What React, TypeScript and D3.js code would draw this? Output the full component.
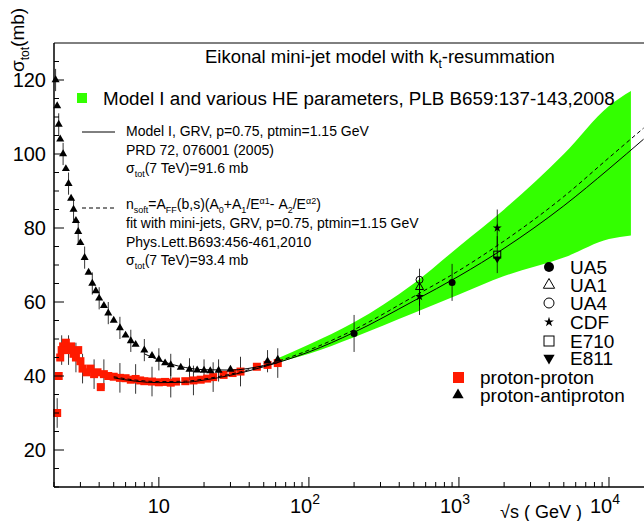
import React from 'react';
import * as d3 from 'd3';

type P = [number, number];

const ppData: P[] = [[2.1,30],[2.15,40],[2.2,45],[2.25,47],[2.3,48],[2.4,49],[2.5,47],[2.6,48],[2.7,46],[2.8,45],[2.9,47],[3.0,44],[3.1,42],[3.3,41],[3.5,42],[3.7,40.5],[3.9,41],[4.1,37],[4.3,40.5],[4.6,40],[5,39.8],[5.5,39.5],[6,39.4],[6.5,39],[7,39.2],[7.5,38.8],[8,38.6],[9,38.5],[10,38.3],[11,38.4],[12,38.2],[13,38.5],[15,38.6],[17,38.8],[19,39],[21,39.3],[23,39.7],[27,40.3],[31,40.8],[35,41.2],[45,42.5],[53,43],[62,43.5]];
const pbarpData: P[] = [[2.05,120],[2.1,113],[2.15,108],[2.2,104],[2.3,100],[2.4,96],[2.5,92],[2.6,88],[2.7,85],[2.8,82],[2.9,79],[3.0,76],[3.2,72],[3.4,68],[3.6,65],[3.8,63],[4.0,61],[4.3,59],[4.6,57],[5,55],[5.5,53],[6,51],[6.5,49.5],[7,48.5],[8,47],[9,45.5],[10,44.5],[11,43.5],[12,43],[14,42.3],[16,41.8],[18,41.6],[20,41.5],[22,41.4],[25,41.5],[30,41.8],[53,44],[62,44.5]];

const ua5: P[] = [[200, 51.5], [900, 65.3]];
const ua1: P[] = [[546, 64]];
const ua4: P[] = [[546, 66]];
const cdf: P[] = [[546, 61.5], [1800, 80]];
const e710: P[] = [[1800, 72.8]];
const e811: P[] = [[1800, 71.7]];

const ppSolid: P[] = [[5,39.5],[7,38.6],[10,38.2],[15,38.3],[20,38.9],[30,40.2],[50,42.5],[100,46.5],[200,51.8],[500,60.3],[1000,67],[2000,74.5],[5000,86],[10000,96],[17000,104]];
const ppDashed: P[] = [[5,39.8],[7,38.9],[10,38.5],[15,38.6],[20,39.2],[30,40.5],[50,42.8],[100,47],[200,52.5],[500,61.5],[1000,68.5],[2000,76.5],[5000,88.5],[10000,99],[17000,107]];
const pbarpSolid: P[] = [[8,46],[10,44.3],[15,42.3],[20,41.7],[30,41.6],[50,42.8],[62,43.6]];

const bandE = [60, 100, 200, 500, 1000, 2000, 5000, 10000, 14000];
const bandHi = [44.5, 48.5, 54.5, 65, 75, 85, 100, 113, 117];
const bandLo = [43.5, 46, 50.5, 57, 62, 67, 72, 77, 78];

const yTicks = [20, 40, 60, 80, 100, 120];

const W = 644, H = 521;
const left = 54, top = 43, bottom = 487;

export default function App() {
  const x = d3.scaleLog().domain([2, 10 ** (1 + (W - 159) / 150)]).range([left, W]);
  const y = d3.scaleLinear().domain([10, 130]).range([bottom, top]);
  const line = d3.line<P>().x(d => x(d[0])).y(d => y(d[1])).curve(d3.curveMonotoneX);
  const area = d3.area<number>().x((_, i) => x(bandE[i])).y0((_, i) => y(bandLo[i])).y1(d => y(d)).curve(d3.curveMonotoneX);
  const tri = d3.symbol(d3.symbolTriangle, 28)()!;
  const bigTri = d3.symbol(d3.symbolTriangle, 55)()!;
  const sans = 'Liberation Sans, Arial, sans-serif';

  const minorX: number[] = [];
  for (let e = 0; e < 5; e++) for (let m = 1; m < 10; m++) {
    const v = m * 10 ** e;
    if (v >= 2 && v <= x.domain()[1]) minorX.push(v);
  }
  const minorY = d3.range(10, 130, 5);
  const errs = (pts: P[], e: number) => pts.map((d, i) => (
    <line key={i} x1={x(d[0])} x2={x(d[0])} y1={y(d[1] - e)} y2={y(d[1] + e)} stroke="#000" strokeWidth={0.8} />
  ));
  const legendY = [267, 285, 303, 322, 341, 358];

  return (
    <svg width={W} height={H} style={{ position: 'absolute', left: 0, top: 0, background: '#fff' }} fontFamily={sans}>
      <path d={area(bandHi)!} fill="#33ff00" />
      {errs(ppData.filter((_, i) => i % 3 === 0), 4)}
      {errs(pbarpData.filter((_, i) => i % 2 === 0), 3)}
      {ppData.map((d, i) => <rect key={i} x={x(d[0]) - 4} y={y(d[1]) - 4} width={8} height={8} fill="#ff1a00" />)}
      {pbarpData.map((d, i) => <path key={i} d={tri} transform={`translate(${x(d[0])},${y(d[1])})`} fill="#000" />)}
      <path d={line(ppSolid)!} fill="none" stroke="#000" strokeWidth={1} />
      <path d={line(pbarpSolid)!} fill="none" stroke="#000" strokeWidth={1} />
      <path d={line(ppDashed)!} fill="none" stroke="#000" strokeWidth={1} strokeDasharray="4,3" />
      {errs([...ua5, ...ua1, ...cdf, ...e710], 5)}
      {ua5.map((d, i) => <circle key={i} cx={x(d[0])} cy={y(d[1])} r={3.5} fill="#000" />)}
      {ua1.map((d, i) => <path key={i} d={tri} transform={`translate(${x(d[0])},${y(d[1])})`} fill="none" stroke="#000" />)}
      {ua4.map((d, i) => <circle key={i} cx={x(d[0])} cy={y(d[1])} r={3.5} fill="none" stroke="#000" />)}
      {cdf.map((d, i) => <path key={i} d={d3.symbol(d3.symbolStar, 25)()!} transform={`translate(${x(d[0])},${y(d[1])})`} fill="#000" />)}
      {e710.map((d, i) => <rect key={i} x={x(d[0]) - 3.5} y={y(d[1]) - 3.5} width={7} height={7} fill="none" stroke="#000" />)}
      {e811.map((d, i) => <path key={i} d={tri} transform={`translate(${x(d[0])},${y(d[1])}) rotate(180)`} fill="#000" />)}

      {/* axes */}
      <line x1={left} x2={W} y1={top} y2={top} stroke="#000" />
      <line x1={left} x2={left} y1={top} y2={bottom} stroke="#000" strokeWidth={1.5} />
      <line x1={left} x2={W} y1={bottom} y2={bottom} stroke="#000" strokeWidth={1.5} />
      {minorX.map(v => {
        const major = Math.abs(Math.log10(v) % 1) < 1e-9;
        return <line key={v} x1={x(v)} x2={x(v)} y1={bottom} y2={bottom - (major ? 10 : 5)} stroke="#000" />;
      })}
      {minorY.map(v => <line key={v} x1={left} x2={left + (v % 20 === 0 ? 10 : 5)} y1={y(v)} y2={y(v)} stroke="#000" />)}
      {yTicks.map(v => <text key={v} x={left - 8} y={y(v) + 7} textAnchor="end" fontSize={20}>{v}</text>)}
      <text x={x(10)} y={bottom + 26} textAnchor="middle" fontSize={20}>10</text>
      {[2, 3, 4].map(e => (
        <text key={e} x={x(10 ** e) - 4} y={bottom + 26} textAnchor="middle" fontSize={20}>10<tspan dy={-9} fontSize={14}>{e}</tspan></text>
      ))}
      <text x={500} y={518} fontSize={18}>√s ( GeV )</text>
      <text transform="translate(24,72) rotate(-90)" fontSize={19}>σ<tspan dy={5} fontSize={12}>tot</tspan><tspan dy={-5}>(mb)</tspan></text>

      {/* legends */}
      <text x={205} y={63} fontSize={18.5}>Eikonal mini-jet model with k<tspan dy={5} fontSize={12}>t</tspan><tspan dy={-5}>-resummation</tspan></text>
      <rect x={77} y={93} width={10} height={10} fill="#33ff00" />
      <text x={103} y={105} fontSize={18.8}>Model I  and various HE parameters, PLB B659:137-143,2008</text>
      <line x1={82} x2={115} y1={132} y2={132} stroke="#000" />
      <g fontSize={14}>
        <text x={126} y={136}>Model I,  GRV, p=0.75, ptmin=1.15 GeV</text>
        <text x={126} y={155}>PRD 72, 076001 (2005)</text>
        <text x={126} y={173}>σ<tspan dy={4} fontSize={9}>tot</tspan><tspan dy={-4}>(7 TeV)=91.6 mb</tspan></text>
        <line x1={82} x2={115} y1={208} y2={208} stroke="#000" strokeDasharray="4,3" />
        <text x={126} y={209}>n<tspan dy={4} fontSize={9}>soft</tspan><tspan dy={-4}>=A</tspan><tspan dy={4} fontSize={9}>FF</tspan><tspan dy={-4}>(b,s)(A</tspan><tspan dy={4} fontSize={9}>0</tspan><tspan dy={-4}>+A</tspan><tspan dy={4} fontSize={9}>1</tspan><tspan dy={-4}>/E</tspan><tspan dy={-5} fontSize={9}>α1</tspan><tspan dy={5}>- A</tspan><tspan dy={4} fontSize={9}>2</tspan><tspan dy={-4}>/E</tspan><tspan dy={-5} fontSize={9}>α2</tspan><tspan dy={5}>)</tspan></text>
        <text x={126} y={228}>fit with mini-jets,  GRV, p=0.75, ptmin=1.15 GeV</text>
        <text x={126} y={247}>Phys.Lett.B693:456-461,2010</text>
        <text x={126} y={265}>σ<tspan dy={4} fontSize={9}>tot</tspan><tspan dy={-4}>(7 TeV)=93.4 mb</tspan></text>
      </g>
      <g fontSize={19}>
        <circle cx={549} cy={legendY[0]} r={5} fill="#000" />
        <text x={570} y={legendY[0] + 7}>UA5</text>
        <path d={bigTri} transform={`translate(549,${legendY[1]})`} fill="none" stroke="#000" />
        <text x={570} y={legendY[1] + 7}>UA1</text>
        <circle cx={549} cy={legendY[2]} r={5} fill="none" stroke="#000" />
        <text x={570} y={legendY[2] + 7}>UA4</text>
        <path d={d3.symbol(d3.symbolStar, 30)()!} transform={`translate(549,${legendY[3]})`} fill="#000" />
        <text x={570} y={legendY[3] + 7}>CDF</text>
        <rect x={544} y={legendY[4] - 5} width={10} height={10} fill="none" stroke="#000" />
        <text x={570} y={legendY[4] + 7}>E710</text>
        <path d={bigTri} transform={`translate(549,${legendY[5]}) rotate(180)`} fill="#000" />
        <text x={570} y={legendY[5] + 7}>E811</text>
        <rect x={453} y={372} width={11} height={11} fill="#ff1a00" />
        <text x={480} y={384}>proton-proton</text>
        <path d={bigTri} transform="translate(458,395)" fill="#000" />
        <text x={480} y={402}>proton-antiproton</text>
      </g>
    </svg>
  );
}
